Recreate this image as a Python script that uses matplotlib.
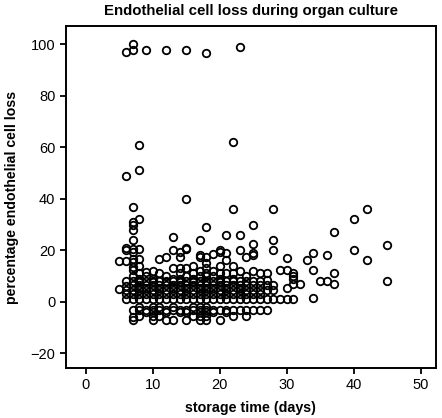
import matplotlib
matplotlib.use("Agg")
import matplotlib.pyplot as plt

# storage time (days) and percentage endothelial cell loss observed at each day
days = [5, 6, 7, 8, 9, 10, 11, 12, 13, 14, 15, 16, 17, 18, 19, 20, 21, 22, 23, 24,
        25, 26, 27, 28, 29, 30, 31, 32, 33, 34, 35, 36, 37, 40, 42, 45]
loss_values = [
    [16, 5],
    [97, 49, 21, 20, 16, 8, 6, 4.5, 3, 1],
    [100, 97.7, 37, 31, 30, 28, 24, 20.7, 19.5, 16.5, 15.5, 13.5, 12.3, 10, 8, 6.5, 4.5, 3, 1, -3, -6, -7],
    [61, 51, 32, 20.7, 16.5, 14, 11, 9, 8, 7.5, 6.5, 5.5, 4.5, 3, 1, -2, -3, -5.5],
    [97.7, 11.7, 10, 8, 6.5, 5.5, 4.5, 3, 1, -3, -4],
    [12, 9, 8, 7.5, 6.5, 4.5, 3, 1, -2, -3, -4, -5.5, -7],
    [16.5, 11, 8, 6.5, 5.5, 4.5, 3, 1, -2, -3, -5.5],
    [97.7, 17.5, 10, 8, 7.5, 6.5, 4.5, 3, 1, -3, -4, -7],
    [25, 20, 13, 9, 8, 6.5, 5.5, 4.5, 3, 1, -2, -3, -7],
    [19.5, 17.5, 13, 11, 9, 8, 7.5, 6.5, 4.5, 3, 1, -3, -4],
    [97.7, 40, 21, 20.7, 13, 10, 8, 6.5, 5.5, 4.5, 3, 1, -3, -4, -7],
    [14, 11, 9, 8, 7.5, 6.5, 4.5, 3, 1, -2, -3, -5.5],
    [24, 18, 17.5, 12, 10, 8, 6.5, 5.5, 4.5, 3, 1, -2, -3, -4, -5.5, -7],
    [96.7, 29, 17.5, 15, 13, 11, 10, 8, 7.5, 6.5, 5.5, 4.5, 3, 1, -2, -3, -4, -5.5, -7],
    [18.5, 12, 10, 8, 6.5, 5.5, 4.5, 3, 1, -3, -4],
    [20.3, 19.4, 14, 11, 9, 8, 7.5, 6.5, 4.5, 3, 1, -3, -7],
    [26, 19, 16.2, 11, 8, 6.5, 5.5, 4.5, 3, 1, -3, -4],
    [62, 36, 14, 11, 9, 8, 6.5, 4.5, 3, 1, -3, -5.5],
    [98.8, 26, 20, 12, 8, 6.5, 5.5, 4.5, 3, 1, -3],
    [17.5, 10, 8, 6.5, 4.5, 3, 1, -3, -5.5],
    [30, 22.3, 19, 18, 12, 8, 6.5, 4.5, 3, 1, -3],
    [11, 8, 6.5, 4.5, 3, 1, -3],
    [11, 8.4, 6.5, 4.5, 1, -3],
    [36, 24, 20, 6.5, 4.5, 1],
    [12.3, 1],
    [17.2, 12.3, 5.2, 1],
    [11.3, 10.2, 9, 7.1, 1],
    [7.1],
    [16.2],
    [19, 12.3, 1.3],
    [8.2],
    [18, 8.2],
    [27, 11.3, 7.1],
    [32, 20],
    [36, 16.1],
    [22, 8.2],
]

x_ticks = [0, 10, 20, 30, 40, 50]
y_ticks = [-20, 0, 20, 40, 60, 80, 100]

plt.rcParams['font.family'] = ['Liberation Sans', 'DejaVu Sans']

fig = plt.figure(figsize=(4.42, 4.18), dpi=100)
ax = fig.add_axes([65.7 / 442, 1 - 368 / 418, (436 - 65.7) / 442, (368 - 26) / 418])

xs, ys = [], []
for d, vals in zip(days, loss_values):
    for v in vals:
        xs.append(d)
        ys.append(v)

ax.plot(xs, ys, linestyle='none', marker='o', markersize=5.4,
        markerfacecolor='none', markeredgecolor='black', markeredgewidth=1.3)

ax.set_xlim(-3.0, 52.3)
ax.set_ylim(-25.7, 107.1)
ax.set_xticks(x_ticks)
ax.set_yticks(y_ticks)
ax.set_yticklabels([str(t).replace('-', '\u2212') for t in y_ticks])
ax.tick_params(direction='out', length=4.5, width=1.3, labelsize=10.5, pad=3)
for s in ax.spines.values():
    s.set_linewidth(1.4)

ax.set_title('Endothelial cell loss during organ culture', fontsize=10.8,
             fontweight='bold', pad=8)
ax.set_xlabel('storage time (days)', fontsize=10.3, fontweight='bold', labelpad=6)
ax.set_ylabel('percentage endothelial cell loss', fontsize=10.2, fontweight='bold', labelpad=8)

fig.savefig('out.png', dpi=100)
